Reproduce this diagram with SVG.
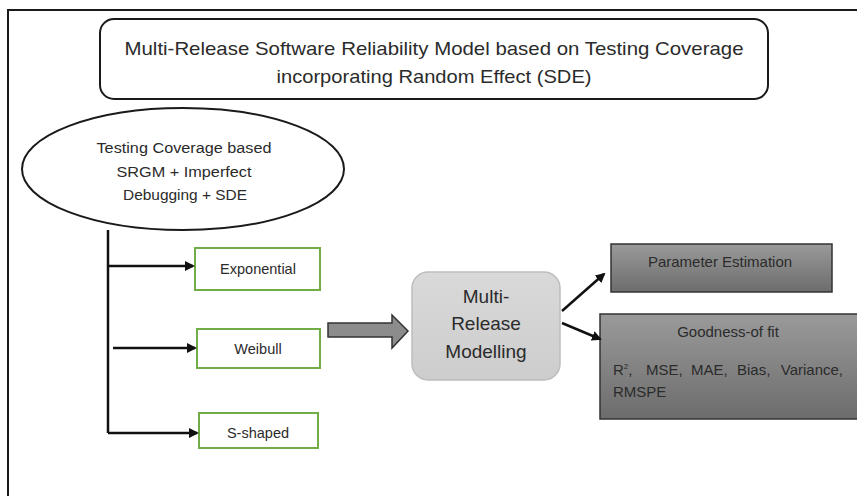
<svg xmlns="http://www.w3.org/2000/svg" width="857" height="496" viewBox="0 0 857 496">
<defs>
<style>
text{font-family:"Liberation Sans","Open Sans",Arial,sans-serif;fill:#2b2b2b;}
.t{font-size:19px;text-anchor:middle;}
.e{font-size:15.5px;text-anchor:middle;}
.g{font-size:14.5px;text-anchor:middle;}
.d{font-size:15px;}
.gbox{fill:#fff;stroke:#70ad47;stroke-width:2;}
.dark{fill:url(#dg);stroke:#333;stroke-width:1.5;}
.conn{stroke:#111;stroke-width:2.5;fill:none;}
</style>
<linearGradient id="dg" x1="0" y1="0" x2="0" y2="1">
<stop offset="0" stop-color="#9a9a9a"/>
<stop offset="1" stop-color="#6c6c6c"/>
</linearGradient>
<linearGradient id="lg" x1="0" y1="0" x2="0" y2="1">
<stop offset="0" stop-color="#d9d9d9"/>
<stop offset="1" stop-color="#cdcdcd"/>
</linearGradient>
<marker id="ah" markerWidth="10" markerHeight="10" refX="8" refY="5" orient="auto" markerUnits="userSpaceOnUse">
<path d="M0,0 L10,5 L0,10 Z" fill="#111"/>
</marker>
</defs>
<rect width="857" height="496" fill="#fff"/>
<path d="M8,496 V10 H857" fill="none" stroke="#1a1a1a" stroke-width="2"/>

<g id="title">
<rect x="100" y="19" width="668" height="80" rx="14" fill="#fff" stroke="#1a1a1a" stroke-width="2"/>
<text class="t" x="434" y="55" textLength="619" lengthAdjust="spacingAndGlyphs">Multi-Release Software Reliability Model based on Testing Coverage</text>
<text class="t" x="434" y="83" textLength="315" lengthAdjust="spacingAndGlyphs">incorporating Random Effect (SDE)</text>
</g>

<g id="srgm">
<ellipse cx="183" cy="169" rx="161" ry="61" fill="#fff" stroke="#1a1a1a" stroke-width="2"/>
<text class="e" x="184" y="153" textLength="175" lengthAdjust="spacingAndGlyphs">Testing Coverage based</text>
<text class="e" x="184" y="177" textLength="135" lengthAdjust="spacingAndGlyphs">SRGM + Imperfect</text>
<text class="e" x="185" y="200" textLength="124" lengthAdjust="spacingAndGlyphs">Debugging + SDE</text>
</g>

<g id="exponential">
<rect class="gbox" x="195" y="248" width="125" height="42"/>
<text class="g" x="258" y="274">Exponential</text>
</g>
<g id="weibull">
<rect class="gbox" x="197" y="329" width="123" height="39"/>
<text class="g" x="258" y="354">Weibull</text>
</g>
<g id="sshaped">
<rect class="gbox" x="199" y="413" width="119" height="35"/>
<text class="g" x="258" y="438">S-shaped</text>
</g>

<g id="block-arrow">
<path d="M328,323 H392 V315 L408,331 L392,348 V337 H328 Z" fill="#8c8c8c" stroke="#333" stroke-width="1.5"/>
</g>

<g id="multi-release">
<rect x="412" y="272" width="148" height="108" rx="16" fill="url(#lg)" stroke="#bdbdbd" stroke-width="1.5"/>
<text class="t" x="486" y="303">Multi-</text>
<text class="t" x="486" y="330">Release</text>
<text class="t" x="486" y="358">Modelling</text>
</g>

<g id="parameter-estimation">
<rect class="dark" x="611" y="244" width="221" height="48"/>
<text class="d" x="720" y="267" text-anchor="middle">Parameter Estimation</text>
</g>

<g id="goodness">
<rect class="dark" x="600" y="314" width="262" height="105"/>
<text class="d" x="728" y="337" text-anchor="middle">Goodness-of fit</text>
<text class="d" x="613" y="375">R<tspan font-size="8" dy="-6">2</tspan><tspan dy="6">,</tspan></text>
<text class="d" x="646" y="375">MSE,</text>
<text class="d" x="691" y="375">MAE,</text>
<text class="d" x="737" y="375">Bias,</text>
<text class="d" x="843" y="375" text-anchor="end">Variance,</text>
<text class="d" x="613" y="397">RMSPE</text>
</g>

<g id="connectors">
<path class="conn" d="M108,230 V433"/>
<path class="conn" d="M108,266 H193" marker-end="url(#ah)"/>
<path class="conn" d="M113,348 H195" marker-end="url(#ah)"/>
<path class="conn" d="M108,433 H197" marker-end="url(#ah)"/>
<path class="conn" d="M562,311 L604,274" marker-end="url(#ah)"/>
<path class="conn" d="M562,323 L600,339" marker-end="url(#ah)"/>
</g>
</svg>
